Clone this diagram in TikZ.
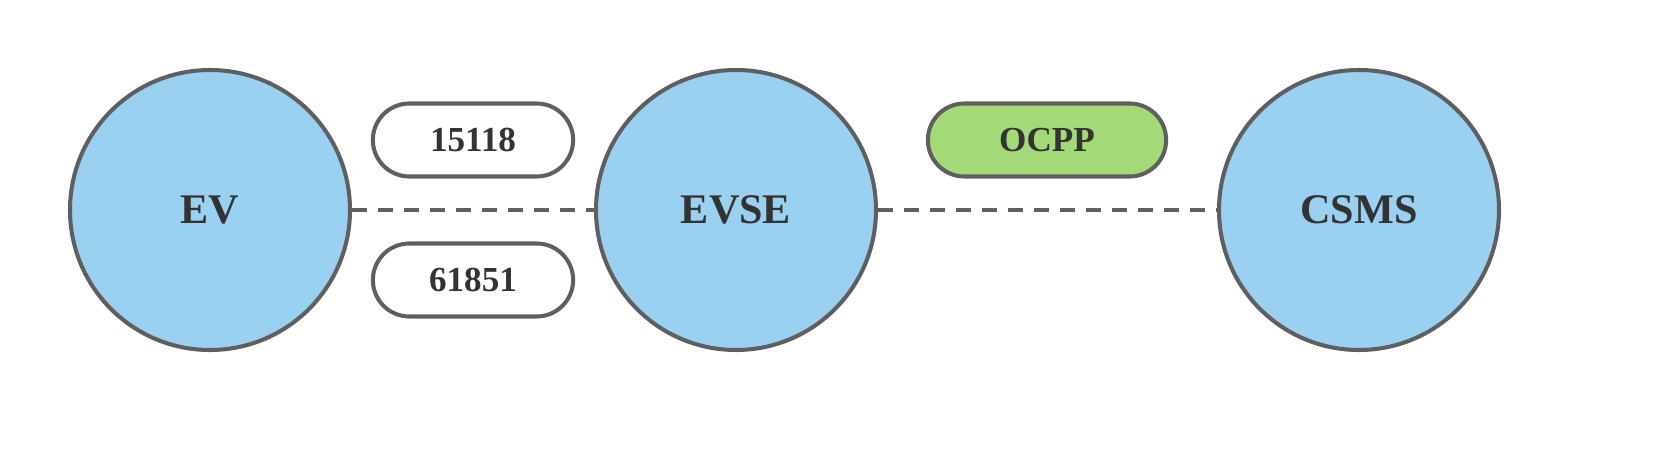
\documentclass[tikz,border=0pt]{standalone}
\usepackage{fontspec}
\setmainfont{Liberation Serif}
\usetikzlibrary{shapes.misc}
\definecolor{edge}{HTML}{5F5F5F}
\definecolor{nodeblue}{HTML}{9AD0F0}
\definecolor{ocppgreen}{HTML}{A3D977}
\definecolor{txt}{HTML}{333333}
\begin{document}
\begin{tikzpicture}[
  party/.style={circle,draw=edge,line width=2.3pt,fill=nodeblue,minimum size=5.6cm,
    text=txt,font=\fontsize{24}{28}\selectfont\bfseries},
  proto/.style={rounded rectangle,draw=edge,line width=2.3pt,
    fill=white,minimum width=4.24cm,minimum height=1.46cm,text=txt,
    font=\fontsize{20}{24}\selectfont\bfseries},
  link/.style={draw=edge,line width=2pt,dash pattern=on 0.3cm off 0.22cm}
]
\useasboundingbox (0,0) rectangle (33.56,9);

\node[party] (ev) at (4.2,4.8) {EV};
\node[party] (evse) at (14.72,4.8) {EVSE};
\node[party] (csms) at (27.18,4.8) {CSMS};

\draw[link] (ev.east) -- (evse.west);
\draw[link] (evse.east) -- (csms.west);

\node[proto] (iso) at (9.46,6.2) {15118};
\node[proto] (iec) at (9.46,3.4) {61851};
\node[proto,fill=ocppgreen,minimum width=5cm] (ocpp) at (20.94,6.2) {OCPP};

\end{tikzpicture}
\end{document}
